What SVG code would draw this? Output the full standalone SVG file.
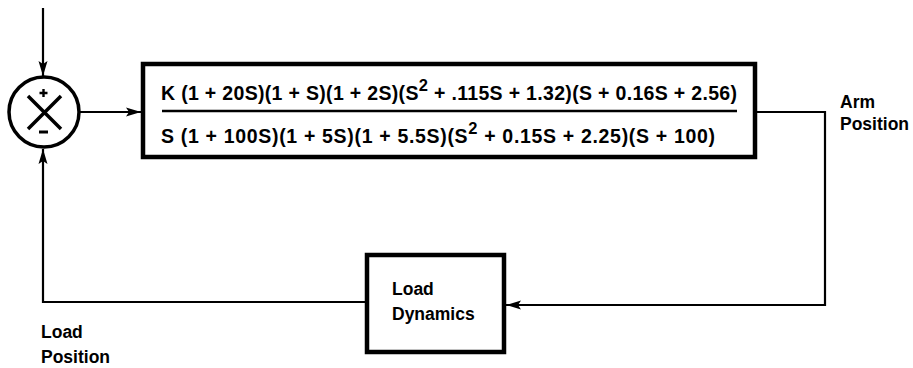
<svg xmlns="http://www.w3.org/2000/svg" width="913" height="368" viewBox="0 0 913 368">
<defs>
<style>
.ln{fill:none;stroke:#000;stroke-width:2.2}
.box{fill:#fff;stroke:#000;stroke-width:4.5}
.lbl{font-family:"Liberation Sans",Arial,sans-serif;font-weight:bold;font-size:17.5px;fill:#000}
.eq{font-family:"Liberation Sans",Arial,sans-serif;font-weight:bold;font-size:19.5px;fill:#000}
</style>
<marker id="arr" markerUnits="userSpaceOnUse" markerWidth="16" markerHeight="12" refX="15" refY="6" orient="auto">
<path d="M0,1.5 L15,6 L0,10.5 L3,6 Z" fill="#000"/>
</marker>
</defs>
<rect width="913" height="368" fill="#fff"/>
<g id="connectors">
<path class="ln" d="M43,8 L43,76" marker-end="url(#arr)"/>
<path class="ln" d="M80,112 L141,112" marker-end="url(#arr)"/>
<path class="ln" d="M757,112 L825,112 L825,305 L506,305" marker-end="url(#arr)"/>
<path class="ln" d="M366,302 L43,302 L43,149" marker-end="url(#arr)"/>
</g>
<g id="sum">
<circle cx="44" cy="112" r="35" fill="#fff" stroke="#000" stroke-width="3.5"/>
<path d="M28,96 L61,129 M61,96 L28,129" stroke="#000" stroke-width="3.5" fill="none"/>
<path d="M39.5,93 L47.5,93 M43.5,89 L43.5,97" stroke="#000" stroke-width="2.4" fill="none"/>
<path d="M39,132 L48,132" stroke="#000" stroke-width="3" fill="none"/>
</g>
<g id="plant">
<rect class="box" x="143" y="64" width="612" height="93"/>
<text class="eq" x="161" y="100" textLength="576" lengthAdjust="spacing">K  (1 + 20S)(1 + S)(1 + 2S)(S<tspan dy="-9" font-size="16.5">2</tspan><tspan dy="9"> + .115S + 1.32)(S + 0.16S + 2.56)</tspan></text>
<path d="M162,111 L737,111" stroke="#000" stroke-width="2.5"/>
<text class="eq" x="161" y="143" textLength="554" lengthAdjust="spacing">S  (1 + 100S)(1 + 5S)(1 + 5.5S)(S<tspan dy="-9" font-size="16.5">2</tspan><tspan dy="9"> + 0.15S + 2.25)(S + 100)</tspan></text>
</g>
<g id="load">
<rect class="box" x="367" y="255" width="137" height="97"/>
<text class="lbl" x="392" y="295">Load</text>
<text class="lbl" x="392" y="320">Dynamics</text>
</g>
<g id="arm-label">
<text class="lbl" x="840" y="108">Arm</text>
<text class="lbl" x="840" y="130">Position</text>
</g>
<g id="load-label">
<text class="lbl" x="41" y="338">Load</text>
<text class="lbl" x="41" y="363">Position</text>
</g>
</svg>
